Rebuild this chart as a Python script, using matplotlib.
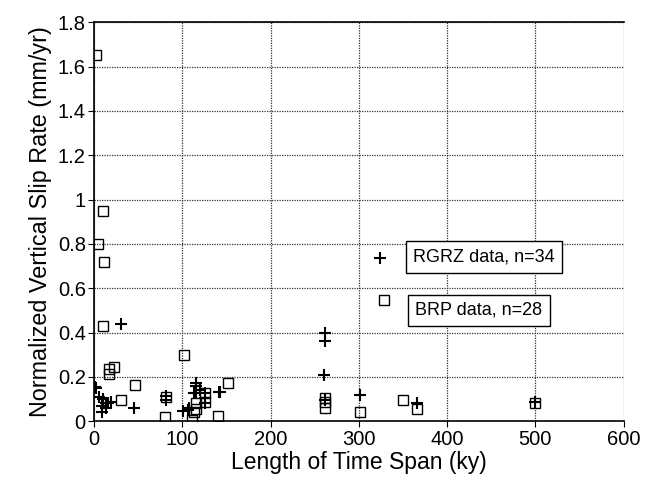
import matplotlib
matplotlib.use("Agg")
import matplotlib.pyplot as plt

# --- Data ---
# BRP data (open squares), time span in ky vs normalized slip rate in mm/yr
brp_span = [2, 4, 10, 11, 10, 17, 17, 23, 46, 31, 80, 81, 102, 111,
            116, 116, 113, 126, 126, 140, 152, 262, 262, 262, 301, 350, 366, 500]
brp_rate = [1.65, 0.80, 0.95, 0.72, 0.43, 0.215, 0.235, 0.245, 0.165, 0.095, 0.02, 0.11, 0.30, 0.005,
            0.08, 0.055, 0.04, 0.125, 0.085, 0.025, 0.17, 0.105, 0.085, 0.06, 0.04, 0.095, 0.055, 0.08]

# RGRZ data (plus signs)
rgrz_span = [1, 2, 5, 10, 9, 9, 14, 16, 19, 31, 45, 81, 81, 101, 106,
             113, 115, 116, 116, 126, 126, 126, 141, 143, 108, 262, 262, 260, 262,
             301, 366, 500, 120, 13]
rgrz_rate = [0.155, 0.15, 0.11, 0.10, 0.07, 0.04, 0.08, 0.08, 0.085, 0.44, 0.06, 0.115, 0.095, 0.045, 0.05,
             0.125, 0.16, 0.17, 0.125, 0.125, 0.105, 0.08, 0.13, 0.13, 0.06, 0.40, 0.36, 0.21, 0.095,
             0.12, 0.08, 0.085, 0.14, 0.06]

legend_labels = ["RGRZ data, n=34", "BRP data, n=28"]

# --- Plot ---
plt.rcParams["font.family"] = ["Liberation Sans", "DejaVu Sans"]

fig = plt.figure(figsize=(6.49, 4.83), dpi=100)
ax = fig.add_axes([0.145, 0.128, 0.816, 0.826])

ax.plot(brp_span, brp_rate, linestyle="none", marker="s", markersize=6.5,
        markerfacecolor="none", markeredgecolor="black", markeredgewidth=1.0)
ax.plot(rgrz_span, rgrz_rate, linestyle="none", marker="+", markersize=8,
        color="black", markeredgewidth=1.5)

ax.set_xlim(0, 600)
ax.set_ylim(0, 1.8)
ax.set_xticks(range(0, 601, 100))
ax.set_yticks([0, 0.2, 0.4, 0.6, 0.8, 1, 1.2, 1.4, 1.6, 1.8])
ax.set_yticklabels(["0", "0.2", "0.4", "0.6", "0.8", "1", "1.2", "1.4", "1.6", "1.8"])
ax.tick_params(labelsize=14.5, length=4, direction="out", color="black", pad=2)
ax.grid(True, linestyle=(0, (1, 1)), color="#333333", linewidth=0.9)
ax.spines["right"].set_visible(False)
for s in ["left", "top", "bottom"]:
    ax.spines[s].set_linewidth(1.2)

ax.set_xlabel("Length of Time Span (ky)", fontsize=16.5, labelpad=2)
ax.set_ylabel("Normalized Vertical Slip Rate (mm/yr)", fontsize=16.8, labelpad=4)

# legend-style key placed inside the plot
ax.plot([324], [0.735], linestyle="none", marker="+", markersize=9, color="black",
        markeredgewidth=1.5)
ax.plot([329], [0.545], linestyle="none", marker="s", markersize=6.5,
        markerfacecolor="none", markeredgecolor="black", markeredgewidth=1.0)
box = dict(boxstyle="square,pad=0.4", facecolor="white", edgecolor="black", linewidth=1.0)
ax.text(361, 0.74, legend_labels[0], fontsize=13, va="center", ha="left", bbox=box)
ax.text(364, 0.50, legend_labels[1], fontsize=13, va="center", ha="left", bbox=box)

fig.savefig("out.png", dpi=100)
